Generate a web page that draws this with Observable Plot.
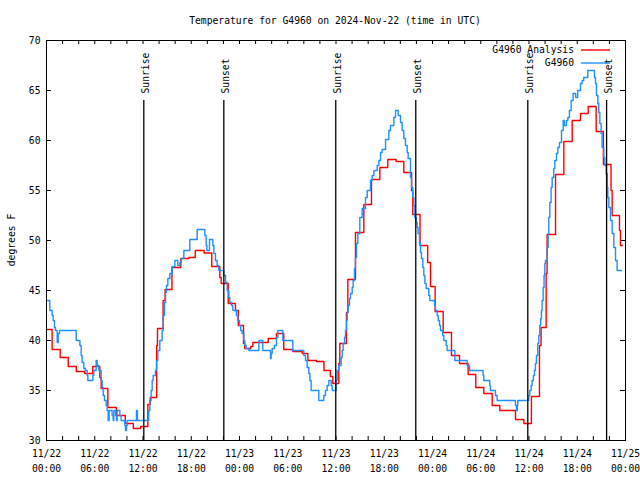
<!DOCTYPE html>
<html>
<head>
<meta charset="utf-8">
<script src="https://cdn.jsdelivr.net/npm/d3@7"></script>
<script src="https://cdn.jsdelivr.net/npm/@observablehq/plot@0.6"></script>
<style>
  html, body { margin: 0; padding: 0; background: white; }
</style>
</head>
<body>
<div id="chart"></div>
<script>
// ---- data (hours after 2024-11-22 00:00 UTC, temperature in °F) ----
const titleText = "Temperature for G4960 on 2024-Nov-22 (time in UTC)";
const yLabel = "degrees F";
const seriesNames = ["G4960 Analysis", "G4960"];
const seriesColors = ["#ff0000", "#1e90ff"];

const analysis = [
  [0,41.1],[0.7,39.1],[1.7,38.3],[2.7,37.4],[3.7,36.9],[4.75,36.7],[5.75,37.4],[6.63,36.3],[6.8,35.2],
  [7.63,33.3],[8.7,32.5],[9.8,31.7],[10.8,31.2],[11.7,31.4],[12.6,33.6],[12.9,34.3],[13.7,39.5],[13.8,41.2],
  [14.5,44.0],[14.75,45.1],[15.6,47.3],[16.7,48.2],[17.7,48.3],[18.5,49.0],[19.6,48.75],[20.55,47.4],
  [21.55,46.3],[21.72,45.7],[22.6,43.7],[23.5,43.0],[23.85,41.5],[24.5,39.7],[24.65,39.2],[25.4,39.4],
  [25.66,39.8],[27.57,40.2],[28.6,40.7],[29.5,39.1],[30.63,38.9],[31.8,38.7],[32.5,38.0],[33.57,37.9],
  [34.5,37.0],[35.3,36.4],[35.6,35.7],[36.35,37.7],[36.47,39.7],[37.3,42.8],[37.47,46.1],[38.42,50.8],
  [39.46,53.6],[40.41,56.1],[41.45,57.3],[42.44,58.1],[43.48,57.9],[44.43,56.8],[45.4,55.0],[45.55,52.6],
  [46.45,49.5],[47.4,47.8],[47.75,45.4],[48.33,42.9],[49.33,40.8],[50.36,38.5],[51.36,37.7],[52.43,36.6],
  [53.38,35.3],[54.38,34.7],[55.42,33.5],[56.37,33.0],[58.32,32.1],[59.36,31.7],[60.3,34.4],[61.3,39.5],
  [61.5,41.3],[62.13,46.7],[62.25,50.6],[63.3,56.6],[64.33,59.9],[65.37,62.0],[66.4,62.7],[67.36,63.4],
  [68.35,60.9],[69.25,57.6],[70.2,55.0],[70.34,52.5],[71.25,51.0],[71.37,49.5],[71.6,49.5]
];

const observed = [
  [0,44.0],[0.41,43.0],[0.7,42.5],[0.83,42.0],[0.99,41.3],[1.12,41.0],[1.33,39.8],[1.45,40.7],[1.62,41.0],
  [3.69,40.0],[4.15,39.5],[4.31,38.5],[4.43,37.8],[4.64,37.2],[4.85,37.0],[5.06,36.5],[5.14,36.0],[5.76,36.5],
  [5.88,37.0],[6.17,38.0],[6.3,37.5],[6.51,37.0],[6.8,36.0],[6.92,35.3],[7.05,34.5],[7.21,34.0],[7.42,33.5],
  [7.54,33.0],[7.67,32.0],[7.79,33.0],[8.16,32.5],[8.29,32.0],[8.37,33.0],[8.58,32.5],[8.7,32.0],[8.79,33.0],
  [9.12,32.5],[9.28,32.0],[9.74,31.5],[9.82,31.0],[9.95,31.5],[10.03,32.0],[11.19,33.0],[11.31,32.0],
  [12.72,33.0],[12.85,34.0],[13.01,35.0],[13.14,36.0],[13.26,36.5],[13.55,37.0],[13.68,38.0],[13.84,39.0],
  [14.09,40.0],[14.38,41.0],[14.51,42.5],[14.67,43.8],[14.8,44.8],[14.92,45.5],[15.09,46.2],[15.34,46.7],
  [15.63,47.4],[15.96,48.0],[16.33,47.5],[16.58,47.8],[16.75,48.2],[17.08,49.0],[17.82,50.1],[18.74,51.1],
  [19.69,50.5],[19.85,49.5],[19.95,49.0],[20.27,50.1],[20.68,49.5],[20.81,48.7],[21.01,48.0],[21.22,47.5],
  [21.43,47.0],[22.05,46.5],[22.26,45.8],[22.47,45.0],[22.67,44.3],[22.8,43.8],[23.0,43.5],[23.17,43.0],
  [23.63,42.5],[23.79,42.0],[24.0,41.5],[24.15,41.0],[24.33,40.7],[24.54,40.0],[24.66,39.5],[24.83,39.2],
  [25.16,39.0],[26.41,40.0],[26.9,39.0],[27.85,38.2],[27.94,38.7],[28.06,39.2],[28.35,39.5],[28.6,40.3],
  [28.77,41.0],[29.39,40.0],[30.63,39.0],[32.0,38.5],[32.21,38.0],[32.41,37.3],[32.62,36.7],[32.75,36.0],
  [32.91,35.0],[33.86,34.0],[34.48,34.5],[34.69,35.0],[34.9,35.5],[35.11,36.0],[35.4,35.5],[35.52,35.0],
  [36.02,36.0],[36.14,37.0],[36.35,37.5],[36.64,38.3],[36.77,39.0],[36.89,39.7],[37.06,40.3],[37.18,41.0],
  [37.3,42.0],[37.39,42.8],[37.51,43.5],[37.68,44.2],[37.8,44.7],[38.01,45.3],[38.13,46.0],[38.3,47.2],
  [38.42,48.3],[38.55,49.7],[38.71,50.7],[38.96,52.3],[39.25,53.2],[39.67,54.3],[39.88,55.0],[40.29,56.0],
  [40.5,56.5],[40.71,57.0],[41.12,57.5],[41.33,58.0],[41.54,58.8],[41.74,59.1],[42.16,60.1],[42.57,61.0],
  [42.78,61.5],[43.19,62.3],[43.4,63.0],[43.73,62.5],[44.02,61.8],[44.23,61.0],[44.43,60.2],[44.64,59.5],
  [44.85,58.8],[44.97,58.2],[45.26,56.3],[45.39,55.3],[45.55,54.3],[45.68,53.5],[45.8,52.3],[45.97,51.8],
  [46.09,51.3],[46.21,50.7],[46.38,49.8],[46.51,48.8],[46.63,48.2],[46.8,47.3],[46.92,46.5],[47.05,45.7],
  [47.21,45.2],[47.54,44.5],[47.67,44.0],[48.25,43.5],[48.37,43.0],[48.58,42.5],[48.71,42.0],[48.87,41.5],
  [48.99,41.0],[49.28,40.5],[49.41,40.0],[49.7,39.5],[49.82,39.0],[50.78,38.0],[52.31,37.5],[52.6,37.0],
  [54.29,36.5],[54.38,36.0],[55.12,35.5],[55.21,35.0],[55.83,34.5],[56.04,34.0],[58.32,33.5],[58.44,33.0],
  [58.55,33.5],[58.6,34.0],[59.98,34.5],[60.1,35.0],[60.27,35.5],[60.39,36.0],[60.55,36.5],[60.68,37.0],
  [60.8,37.7],[60.93,38.5],[61.09,39.7],[61.22,40.5],[61.34,41.5],[61.45,42.2],[61.55,43.0],[61.63,44.0],
  [61.76,45.3],[61.87,46.5],[61.97,47.7],[62.05,48.0],[62.26,49.3],[62.38,50.7],[62.46,52.3],[62.59,53.8],
  [62.75,55.3],[62.88,56.3],[63.08,57.2],[63.21,58.0],[63.42,58.7],[63.58,59.3],[63.79,59.8],[64.04,61.0],
  [64.25,62.0],[64.41,61.5],[64.66,62.0],[64.83,62.3],[65.03,63.0],[65.24,64.0],[65.49,64.7],[65.8,64.3],
  [66.05,65.0],[66.4,65.7],[66.61,66.0],[66.81,66.3],[67.31,67.0],[68.14,66.3],[68.27,65.7],[68.39,64.5],
  [68.56,63.7],[68.68,62.8],[68.81,61.7],[68.97,60.7],[69.09,59.3],[69.3,58.3],[69.43,57.5],[69.59,56.7],
  [69.72,55.3],[69.8,54.3],[69.93,53.3],[70.13,52.0],[70.34,50.7],[70.55,49.3],[70.76,48.0],[70.96,47.0],
  [71.5,47.0]
];

const sunHours = [12.1, 22.05, 35.97, 45.92, 59.85, 69.65];
const sunLabels = ["Sunrise", "Sunset", "Sunrise", "Sunset", "Sunrise", "Sunset"];
const sunLineTop = 64.0;   // temperature level where the marker lines stop
const sunLabelBase = 64.7; // temperature level where the labels begin

const xTickHours = [0, 6, 12, 18, 24, 30, 36, 42, 48, 54, 60, 66, 72];
const xTickLabels = ["11/22\n00:00","11/22\n06:00","11/22\n12:00","11/22\n18:00",
                     "11/23\n00:00","11/23\n06:00","11/23\n12:00","11/23\n18:00",
                     "11/24\n00:00","11/24\n06:00","11/24\n12:00","11/24\n18:00","11/25\n00:00"];
const xMinorHours = d3.range(0, 73, 2);
const yTicks = [30, 35, 40, 45, 50, 55, 60, 65, 70];
const yTickLabels = ["30","35","40","45","50","55","60","65","70"];
const xDomainHours = [0, 72];
const yDomain = [30, 70];

// ---- helpers ----
const t0 = Date.UTC(2024, 10, 22, 0, 0, 0);
const toDate = h => new Date(t0 + h * 3600e3);

const redData = analysis.map(([h, v]) => ({t: toDate(h), v}));
const blueData = observed.map(([h, v]) => ({t: toDate(h), v}));
const sunData = sunHours.map((h, i) => ({t: toDate(h), label: sunLabels[i]}));
const xTickData = xTickHours.map((h, i) => ({t: toDate(h), label: xTickLabels[i]}));
const yTickData = yTicks.map((v, i) => ({v, label: yTickLabels[i]}));

const font = "DejaVu Sans Mono, monospace";
const fs = 9.7;

const chart = Plot.plot({
  width: 640,
  height: 480,
  marginTop: 40,
  marginRight: 15,
  marginBottom: 40,
  marginLeft: 46,
  x: {type: "utc", domain: xDomainHours.map(toDate), axis: null},
  y: {domain: yDomain, axis: null},
  style: {fontFamily: font, fontSize: fs + "px", background: "white", color: "black", overflow: "visible"},
  marks: [
    // tick marks (inward, all four sides)
    Plot.ruleX(xMinorHours, {x: toDate, y1: 30, y2: 30.4, stroke: "black", strokeWidth: 1}),
    Plot.ruleX(xMinorHours, {x: toDate, y1: 69.6, y2: 70, stroke: "black", strokeWidth: 1}),
    Plot.ruleY(yTicks, {y: d => d, x1: toDate(0), x2: toDate(0.62), stroke: "black", strokeWidth: 1}),
    Plot.ruleY(yTicks, {y: d => d, x1: toDate(71.38), x2: toDate(72), stroke: "black", strokeWidth: 1}),
    // data
    Plot.line(redData, {x: "t", y: "v", curve: "step-after", stroke: seriesColors[0], strokeWidth: 1.4}),
    Plot.line(blueData, {x: "t", y: "v", curve: "step-after", stroke: seriesColors[1], strokeWidth: 1.4}),
    // sunrise / sunset markers
    Plot.ruleX(sunData, {x: "t", y1: 30, y2: sunLineTop, stroke: "black", strokeWidth: 1.3}),
    Plot.text(sunData, {x: "t", y: () => sunLabelBase, text: "label", rotate: -90, textAnchor: "start",
                        dx: 2, fill: "black", fontSize: fs, fontFamily: font}),
    // axis labels
    Plot.text(xTickData, {x: "t", frameAnchor: "bottom", text: "label", lineAnchor: "top", lineHeight: 1.55,
                          dy: 6, fill: "black", fontSize: fs, fontFamily: font}),
    Plot.text(yTickData, {y: "v", frameAnchor: "left", text: "label", textAnchor: "end",
                          dx: -6, fill: "black", fontSize: fs, fontFamily: font}),
    Plot.frame({stroke: "black", strokeWidth: 1})
  ]
});

const svg = d3.select(chart);
// title
svg.append("text")
  .attr("x", 335).attr("y", 24)
  .attr("text-anchor", "middle")
  .attr("font-family", font).attr("font-size", fs)
  .attr("fill", "black")
  .text(titleText);
// y label
svg.append("text")
  .attr("transform", "translate(12,240) rotate(-90)")
  .attr("text-anchor", "middle")
  .attr("dy", "0.35em")
  .attr("font-family", font).attr("font-size", fs)
  .attr("fill", "black")
  .text(yLabel);
// legend
seriesNames.forEach((name, i) => {
  const yy = 50 + i * 13;
  svg.append("text")
    .attr("x", 574).attr("y", yy).attr("dy", "0.35em")
    .attr("text-anchor", "end")
    .attr("font-family", font).attr("font-size", fs)
    .attr("fill", "black")
    .text(name);
  svg.append("line")
    .attr("x1", 581).attr("x2", 610).attr("y1", yy).attr("y2", yy)
    .attr("stroke", seriesColors[i]).attr("stroke-width", 1.4);
});

document.getElementById("chart").appendChild(chart);
</script>
</body>
</html>
